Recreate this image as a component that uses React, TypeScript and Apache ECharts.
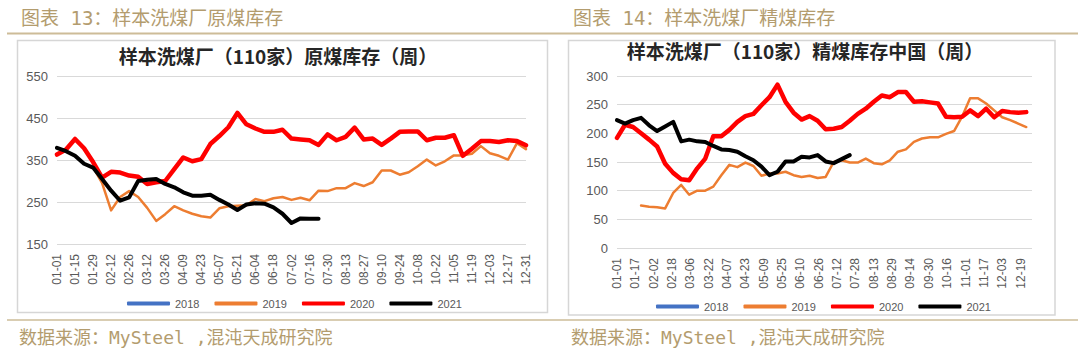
import React, { useEffect, useRef } from "react";
import * as echarts from "echarts";

// ---------- Left chart: 原煤库存 (weekly categories, labels every 2nd) ----------
const leftCategories = [
  "01-01", "01-08", "01-15", "01-22", "01-29", "02-05", "02-12", "02-19", "02-26",
  "03-05", "03-12", "03-19", "03-26", "04-02", "04-09", "04-16", "04-23", "04-30",
  "05-07", "05-14", "05-21", "05-28", "06-04", "06-11", "06-18", "06-25", "07-02",
  "07-09", "07-16", "07-23", "07-30", "08-06", "08-13", "08-20", "08-27", "09-03",
  "09-10", "09-17", "09-24", "10-01", "10-08", "10-15", "10-22", "10-29", "11-05",
  "11-12", "11-19", "11-26", "12-03", "12-10", "12-17", "12-24", "12-31",
];
const leftYTicks = [150, 250, 350, 450, 550];

const raw2018: (number | null)[] = [];
const raw2019: (number | null)[] = [
  null, null, null, null, 333, 295, 230, 262, 276, 262, 236, 205, 221, 240, 230,
  222, 216, 213, 235, 240, 241, 242, 257, 252, 259, 262, 255, 260, 254, 277, 276,
  283, 283, 295, 288, 297, 325, 325, 315, 321, 335, 351, 337, 347, 361, 361, 365,
  383, 366, 360, 351, 390, 376,
];
const raw2020: (number | null)[] = [
  363, 375, 400, 378, 345, 308, 322, 320, 313, 310, 293, 297, 300, 328, 356, 347,
  352, 388, 407, 428, 462, 435, 425, 417, 417, 422, 401, 399, 397, 386, 411, 397,
  405, 427, 399, 401, 386, 401, 417, 418, 418, 397, 403, 403, 409, 360, 377, 395,
  395, 393, 397, 395, 385,
];
const raw2021: (number | null)[] = [
  379, 371, 360, 341, 332, 305, 277, 253, 261, 300, 303, 305, 293, 285, 273, 265,
  265, 267, 255, 244, 231, 244, 247, 246, 237, 222, 200, 211, 210, 210,
];

// ---------- Right chart: 精煤库存 (weekly points on a day axis, labels every 16 days) ----------
const rightTickLabels = [
  "01-01", "01-17", "02-02", "02-18", "03-06", "03-22", "04-07", "04-23", "05-09",
  "05-25", "06-10", "06-26", "07-12", "07-28", "08-13", "08-29", "09-14", "09-30",
  "10-16", "11-01", "11-17", "12-03", "12-19",
];
const rightYTicks = [0, 50, 100, 150, 200, 250, 300];

const clean2018: number[] = [];
const clean2018Start = 0;
const clean2019Start = 21;
const clean2019: number[] = [
  74, 72, 71, 69, 96, 110, 93, 100, 100, 107, 127, 145, 141, 149, 143, 126, 130,
  130, 133, 127, 124, 126, 122, 124, 150, 153, 149, 149, 156, 148, 146, 153, 168,
  172, 185, 191, 193, 193, 199, 204, 229, 261, 261, 252, 240, 228, 223, 217, 211,
];
const clean2020Start = 0;
const clean2020: number[] = [
  192, 215, 211, 200, 189, 177, 147, 131, 120, 118, 139, 156, 195, 195, 206, 220,
  230, 234, 249, 263, 285, 255, 236, 224, 230, 222, 207, 208, 211, 222, 234, 243,
  255, 266, 263, 272, 272, 255, 256, 254, 252, 229, 228, 229, 240, 230, 243, 228,
  239, 237, 236, 237,
];
const clean2021Start = 0;
const clean2021: number[] = [
  223, 217, 223, 227, 214, 204, 212, 220, 186, 189, 186, 185, 178, 172, 171, 168,
  160, 153, 142, 127, 133, 151, 151, 159, 158, 162, 151, 148, 155, 162,
];

const seriesNames = ["2018", "2019", "2020", "2021"];
const seriesColors = ["#4472C4", "#ED7D31", "#FF0000", "#000000"];
const seriesWidths = [2.5, 2.5, 4.5, 4];

const leftHeader = "图表 13：样本洗煤厂原煤库存";
const rightHeader = "图表 14：样本洗煤厂精煤库存";
const leftTitle = "样本洗煤厂（110家）原煤库存（周）";
const rightTitle = "样本洗煤厂（110家）精煤库存中国（周）";
const sourceText = "数据来源：MySteel ,混沌天成研究院";

const NUM_FONT = '"Liberation Sans", Arial, sans-serif';
const CJK_FONT = '"Noto Sans CJK SC", "Noto Sans", sans-serif';
const MONO_CJK_FONT = '"DejaVu Sans Mono", "Noto Sans CJK SC", monospace';
const GOLD = "#B39C6E";
const LABEL = "#595959";
const GRID = "#D9D9D9";

const weeklyPairs = (start: number, values: number[]) =>
  values.map((v, k) => [start + 7 * k, v]);

function buildOption(): any {
  const leftData = [raw2018, raw2019, raw2020, raw2021];
  const rightData = [
    weeklyPairs(clean2018Start, clean2018),
    weeklyPairs(clean2019Start, clean2019),
    weeklyPairs(clean2020Start, clean2020),
    weeklyPairs(clean2021Start, clean2021),
  ];

  const mkSeries = (data: any[], axis: number) =>
    seriesNames.map((name, i) => ({
      name,
      type: "line",
      xAxisIndex: axis,
      yAxisIndex: axis,
      data: data[i],
      symbol: "none",
      color: seriesColors[i],
      itemStyle: { color: seriesColors[i] },
      lineStyle: { width: seriesWidths[i], color: seriesColors[i], cap: "round", join: "round" },
      z: 2 + i,
    }));

  const legendBase = {
    orient: "horizontal",
    itemWidth: 43,
    itemHeight: 4,
    itemGap: 15,
    icon: "roundRect",
    textStyle: { fontSize: 11, color: LABEL, fontFamily: NUM_FONT },
    data: seriesNames,
  };

  const yAxisBase = {
    type: "value",
    axisLine: { show: false },
    axisTick: { show: false },
    splitLine: { show: true, lineStyle: { color: GRID, width: 1 } },
    axisLabel: { fontSize: 13, color: LABEL, fontFamily: NUM_FONT, margin: 9 },
  };

  return {
    animation: false,
    backgroundColor: "#ffffff",
    grid: [
      { left: 57, top: 76, width: 469, height: 168 },
      { left: 617, top: 76, width: 415, height: 172 },
    ],
    legend: [
      { ...legendBase, left: 122, top: 293 },
      { ...legendBase, left: 651, top: 296 },
    ],
    xAxis: [
      {
        type: "category",
        gridIndex: 0,
        data: leftCategories,
        boundaryGap: false,
        axisLine: { show: false },
        axisTick: { show: false },
        splitLine: { show: false },
        axisLabel: { interval: 1, rotate: 90, fontSize: 12, color: LABEL, fontFamily: NUM_FONT, margin: 10 },
      },
      {
        type: "value",
        gridIndex: 1,
        min: 0,
        max: 362,
        interval: 16,
        axisLine: { show: false },
        axisTick: { show: false },
        splitLine: { show: false },
        axisLabel: {
          rotate: 90,
          fontSize: 12,
          color: LABEL,
          fontFamily: NUM_FONT,
          margin: 10,
          showMaxLabel: false,
          formatter: (v: number) => {
            const idx = Math.round(v / 16);
            return v % 16 === 0 && rightTickLabels[idx] ? rightTickLabels[idx] : "";
          },
        },
      },
    ],
    yAxis: [
      { ...yAxisBase, gridIndex: 0, min: leftYTicks[0], max: leftYTicks[leftYTicks.length - 1], interval: 100 },
      { ...yAxisBase, gridIndex: 1, min: rightYTicks[0], max: rightYTicks[rightYTicks.length - 1], interval: 50 },
    ],
    series: [...mkSeries(leftData, 0), ...mkSeries(rightData, 1)],
    graphic: [
      // header texts
      { type: "text", x: 21, y: 18, style: { text: leftHeader, fill: GOLD, font: `19px ${MONO_CJK_FONT}`, textVerticalAlign: "middle" } },
      { type: "text", x: 573, y: 18, style: { text: rightHeader, fill: GOLD, font: `19px ${MONO_CJK_FONT}`, textVerticalAlign: "middle" } },
      // gold rule under headers
      { type: "line", shape: { x1: 7, y1: 33.5, x2: 1078, y2: 33.5 }, style: { stroke: "#CDBC98", lineWidth: 2 } },
      // frames
      { type: "rect", shape: { x: 17.5, y: 40.5, width: 530, height: 272 }, style: { fill: "none", stroke: "#D6D6D6", lineWidth: 1.5 }, z: 0 },
      { type: "rect", shape: { x: 568.5, y: 40.5, width: 486.5, height: 274.5 }, style: { fill: "none", stroke: "#D6D6D6", lineWidth: 1.5 }, z: 0 },
      // chart titles
      { type: "text", x: 278, y: 55, style: { text: leftTitle, fill: "#262626", font: `bold 19px ${CJK_FONT}`, textAlign: "center", textVerticalAlign: "middle" } },
      { type: "text", x: 805, y: 50, style: { text: rightTitle, fill: "#262626", font: `bold 19px ${CJK_FONT}`, textAlign: "center", textVerticalAlign: "middle" } },
      // bottom rule and source
      { type: "line", shape: { x1: 7, y1: 320, x2: 1078, y2: 320 }, style: { stroke: "#CDBC98", lineWidth: 1.5 } },
      { type: "text", x: 19, y: 337, style: { text: sourceText, fill: GOLD, font: `18px ${MONO_CJK_FONT}`, textVerticalAlign: "middle" } },
      { type: "text", x: 571, y: 337, style: { text: sourceText, fill: GOLD, font: `18px ${MONO_CJK_FONT}`, textVerticalAlign: "middle" } },
    ],
  };
}

export default function App() {
  const ref = useRef<HTMLDivElement>(null);
  useEffect(() => {
    if (!ref.current) return;
    const chart = echarts.init(ref.current, null, { renderer: "svg" });
    chart.setOption(buildOption());
    return () => chart.dispose();
  }, []);
  return (
    <div
      ref={ref}
      style={{ position: "fixed", left: 0, top: 0, width: 1080, height: 348, background: "#fff" }}
    />
  );
}
